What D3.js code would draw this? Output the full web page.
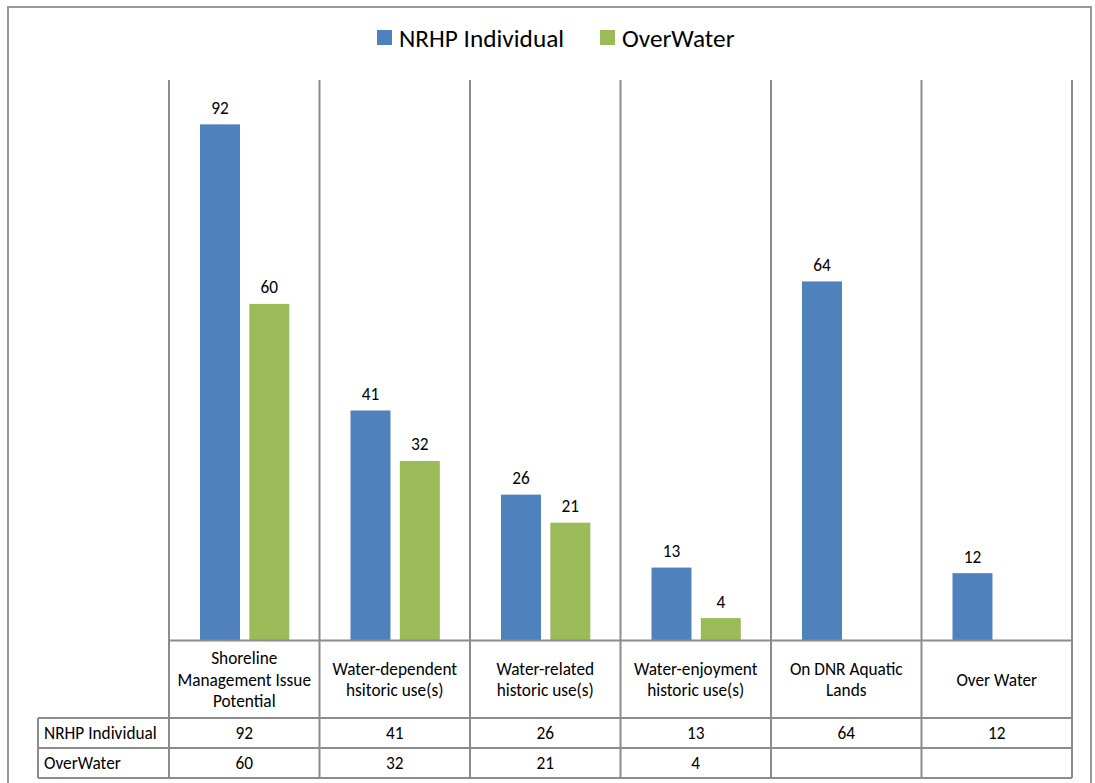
<!DOCTYPE html>
<html><head><meta charset="utf-8">
<script src="https://cdn.jsdelivr.net/npm/d3@7"></script>
<style>body{margin:0;background:#fff}svg{display:block}text{font-family:Carlito,Lato,"Liberation Sans",sans-serif;fill:#000}</style>
</head><body><svg id="c" width="1095" height="783"></svg>
<script>
const categories = ["Shoreline\nManagement Issue\nPotential","Water-dependent\nhsitoric use(s)","Water-related\nhistoric use(s)","Water-enjoyment\nhistoric use(s)","On DNR Aquatic\nLands","Over Water"];
const seriesNames = ["NRHP Individual","OverWater"];
const nrhpValues = [92,41,26,13,64,12];
const overWaterValues = [60,32,21,4,null,null];
const colors = ["#4F81BD","#9BBB59"];
const seriesValues = [nrhpValues, overWaterValues];

const svg = d3.select("#c");
const grid = "#8c8c8c";
const fs = "17.3px";
// outer border
svg.append("rect").attr("x",8).attr("y",7).attr("width",1083).attr("height",800)
  .attr("fill","none").attr("stroke","#999").attr("stroke-width",2);

const x0 = d3.scaleBand().domain(categories).range([169,1072]).padding(0);
const x1 = d3.scaleBand().domain(seriesNames).range([31,120.3]).paddingInner(0.19);
const y = d3.scaleLinear().domain([0,100]).range([640.5,79.5]);

// bars
seriesNames.forEach((s,si)=>{
  const data = categories.map((c,i)=>({c, v: seriesValues[si][i]})).filter(d=>d.v!=null);
  svg.append("g").selectAll("rect").data(data).join("rect")
    .attr("x",d=>x0(d.c)+x1(s)).attr("width",x1.bandwidth())
    .attr("y",d=>y(d.v)).attr("height",d=>y(0)-y(d.v)).attr("fill",colors[si]);
  svg.append("g").selectAll("text").data(data).join("text")
    .attr("x",d=>x0(d.c)+x1(s)+x1.bandwidth()/2).attr("y",d=>y(d.v)-16)
    .attr("text-anchor","middle").attr("dominant-baseline","central")
    .style("font-size",fs).text(d=>d.v);
});

// grid/table lines
const g = svg.append("g").attr("stroke",grid).attr("stroke-width",2).attr("fill","none");
const bounds = categories.map(c=>x0(c)).concat([x0.range()[1]]);
bounds.forEach(b=>g.append("line").attr("x1",b).attr("x2",b).attr("y1",80).attr("y2",778));
const rowY = [718,748,778];
g.append("line").attr("x1",169).attr("x2",1072).attr("y1",y(0)).attr("y2",y(0));
rowY.forEach(ry=>g.append("line").attr("x1",38).attr("x2",1072).attr("y1",ry).attr("y2",ry));
g.append("line").attr("x1",38).attr("x2",38).attr("y1",718).attr("y2",778);

// header labels
categories.forEach(c=>{
  const lines = c.split("\n");
  const cx = x0(c)+x0.bandwidth()/2;
  const lh = 21.5;
  const t = svg.append("text").attr("text-anchor","middle").style("font-size",fs);
  lines.forEach((l,i)=>{
    t.append("tspan").attr("x",cx).attr("y",680 + (i-(lines.length-1)/2)*lh)
      .attr("dominant-baseline","central").text(l);
  });
});

// table rows
seriesNames.forEach((s,si)=>{
  const cy = (rowY[si]+rowY[si+1])/2;
  svg.append("text").attr("x",44).attr("y",cy).attr("dominant-baseline","central")
    .style("font-size",fs).text(s);
  categories.forEach((c,i)=>{
    const v = seriesValues[si][i];
    if(v==null) return;
    svg.append("text").attr("x",x0(c)+x0.bandwidth()/2).attr("y",cy)
      .attr("text-anchor","middle").attr("dominant-baseline","central")
      .style("font-size",fs).text(v);
  });
});

// legend
const legX = [377,600];
seriesNames.forEach((s,si)=>{
  svg.append("rect").attr("x",legX[si]).attr("y",30).attr("width",15).attr("height",15).attr("fill",colors[si]);
  svg.append("text").attr("x",legX[si]+22).attr("y",38).attr("dominant-baseline","central")
    .style("font-size","25.3px").text(s);
});
</script></body></html>
